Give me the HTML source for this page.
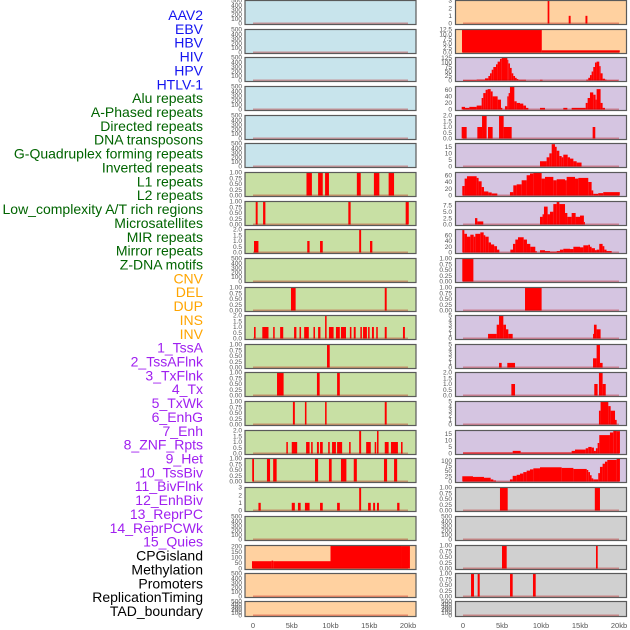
<!DOCTYPE html>
<html><head><meta charset="utf-8">
<style>
html,body{margin:0;padding:0;background:#fff;}
svg{display:block;font-family:"Liberation Sans",sans-serif;}
</style></head>
<body>
<svg id="chart" width="630" height="630" viewBox="0 0 630 630" xmlns="http://www.w3.org/2000/svg"></svg>
<script>
const featureLabels = ["AAV2","EBV","HBV","HIV","HPV","HTLV-1","Alu repeats","A-Phased repeats","Directed repeats","DNA transposons","G-Quadruplex forming repeats","Inverted repeats","L1 repeats","L2 repeats","Low_complexity A/T rich regions","Microsatellites","MIR repeats","Mirror repeats","Z-DNA motifs","CNV","DEL","DUP","INS","INV","1_TssA","2_TssAFlnk","3_TxFlnk","4_Tx","5_TxWk","6_EnhG","7_Enh","8_ZNF_Rpts","9_Het","10_TssBiv","11_BivFlnk","12_EnhBiv","13_ReprPC","14_ReprPCWk","15_Quies","CPGisland","Methylation","Promoters","ReplicationTiming","TAD_boundary"];
const labelGroupCounts = [6,13,5,15,5];
const labelGroupColors = ["#1414f0","#006400","#ffa500","#a020f0","#000000"];

const xTickValues = [0,5,10,15,20];
const xTickLabels = ["0","5kb","10kb","15kb","20kb"];

const T500 = ["0","100","200","300","400","500"];
const T1 = ["0.00","0.25","0.50","0.75","1.00"];
const T2 = ["0.0","0.5","1.0","1.5","2.0"];
const T3 = ["0","1","2","3"];
const T5 = ["0","1","2","3","4","5"];
const T60 = ["0","20","40","60"];
const T15 = ["0","5","10","15"];

const leftBg = ["#c8e4ec","#c8e4ec","#c8e4ec","#c8e4ec","#c8e4ec","#c8e4ec","#c8e0a4","#c8e0a4","#c8e0a4","#c8e0a4","#c8e0a4","#c8e0a4","#c8e0a4","#c8e0a4","#c8e0a4","#c8e0a4","#c8e0a4","#c8e0a4","#c8e0a4","#ffd1a0","#ffd1a0","#ffd1a0"];
const rightBg = ["#ffd1a0","#ffd1a0","#d5c5e1","#d5c5e1","#d5c5e1","#d5c5e1","#d5c5e1","#d5c5e1","#d5c5e1","#d5c5e1","#d5c5e1","#d5c5e1","#d5c5e1","#d5c5e1","#d5c5e1","#d5c5e1","#d5c5e1","#d0d0d0","#d0d0d0","#d0d0d0","#d0d0d0","#d0d0d0"];

const leftTicks = [T500,T500,T500,T500,T500,T500,T1,T1,T2,T500,T1,T2,T1,T1,T1,T2,T1,T3,T500,["0","50","100","150","200"],T500,T500];
const leftYmax = [500,500,500,500,500,500,1,1,2,500,1,2,1,1,1,2,1,3,500,205,500,500];
const leftSegs = [
 [],[],[],[],[],[],
 [[6.9,7.6,1],[8.4,9.0,1],[9.3,9.8,1],[13.4,13.9,1],[15.6,16.3,1],[17.5,18.2,1]],
 [[0.35,0.6,1],[1.3,1.6,1],[12.3,12.6,1],[19.7,20.1,1]],
 [[0.13,0.7,1],[7.0,7.3,1],[8.65,9.0,1],[13.7,13.95,2],[15.1,15.4,1]],
 [],
 [[4.9,5.5,1],[17.0,17.25,1]],
 [[0.13,0.34,1],[1.2,2.0,1],[2.6,2.8,1],[3.5,3.9,1],[5.3,5.6,1],[6.0,6.2,1],[6.6,7.2,1],[7.8,8.0,1],[8.4,8.7,1],[9.3,9.5,2],[9.8,10.4,1],[10.7,11.2,1],[11.35,12.0,1],[12.5,12.7,1],[13.0,13.25,1],[13.85,14.05,1],[14.2,14.7,1],[14.85,15.05,1],[15.35,15.6,1],[15.9,16.1,1],[17.0,17.25,1],[19.35,19.6,1]],
 [[9.55,9.9,1]],
 [[3.1,3.95,1],[8.25,8.6,1],[10.85,11.2,1]],
 [[5.15,5.4,1],[6.7,6.9,1],[9.3,9.5,1],[17.0,17.25,1]],
 [[4.3,4.5,1],[5.0,5.7,1],[6.85,7.3,1],[7.5,7.7,1],[8.25,8.5,1],[8.65,9.0,1],[9.7,9.9,1],[10.2,10.7,1],[10.85,11.5,1],[12.4,12.6,1],[13.7,13.95,2],[14.6,15.2,1],[15.7,15.9,1],[16.0,16.2,2],[17.0,17.5,1],[17.8,18.7,1],[19.1,19.3,1]],
 [[-0.1,0.13,1],[1.8,2.2,1],[2.6,3.05,1],[8.0,8.4,1],[9.8,10.15,1],[11.35,12.05,1],[13.0,13.4,1],[16.9,17.3,1],[18.2,18.6,1]],
 [[0.7,1.0,1],[5.0,5.4,1],[5.8,6.15,1],[6.7,7.3,1],[8.65,9.0,1],[10.85,11.2,1],[13.7,13.95,3],[14.85,15.2,1],[15.5,15.75,1],[16.0,16.25,1],[18.6,18.9,1]],
 [],
 [[-0.13,2.4,65],[2.4,2.6,70],[2.6,10.0,65],[10.0,19.1,205],[19.1,20.25,200]],
 [],[]
];

const rightTicks = [T3,["0.0","2.5","5.0","7.5","10.0","12.5"],["0","25","50","75","100","125"],T60,T2,T15,T60,["0.0","2.5","5.0","7.5"],T60,T1,T1,T5,T5,T2,T5,T15,["0","25","50","75","100"],T1,T500,T1,T1,T500];
const rightYmax = [3,12.5,128,70,2,17.5,68,9,80,1,1,5,5,2,5,17.5,110,1,500,1,1,500];
const rightSegs = [
 [[10.85,11.07,3],[13.55,13.8,1],[15.7,15.95,1]],
 [[-0.13,10.1,12.5],[10.1,20.1,1.2]],
 [[0,1.75,3],[1.75,2.82,5],[2.82,3.25,12],[3.25,3.46,25],[3.46,3.68,40],[3.68,3.89,60],[3.89,4.23,75],[4.23,4.44,90],[4.44,4.74,105],[4.74,4.96,120],[4.96,5.68,128],[5.68,5.81,115],[5.81,6.02,95],[6.02,6.24,70],[6.24,6.45,40],[6.45,6.67,25],[6.67,6.88,15],[6.88,7.09,8],[7.09,8.08,4],[9.87,10.2,4],[15.8,16.06,5],[16.06,16.28,15],[16.28,16.49,30],[16.49,16.7,50],[16.7,16.92,75],[16.92,17.13,100],[17.13,17.47,105],[17.47,17.64,80],[17.64,17.9,40],[17.9,18.2,10],[18.2,18.4,5],[18.4,19.9,2]],
 [[-0.17,0.26,8],[0.26,0.81,5],[0.81,1.75,8],[1.75,2.39,12],[2.39,2.6,35],[2.6,2.9,50],[2.9,3.16,60],[3.16,3.55,62],[3.55,3.8,55],[3.8,4.44,40],[4.44,4.87,30],[4.87,5.04,5],[5.38,5.68,10],[5.68,5.85,40],[5.85,6.02,50],[6.02,6.58,70],[6.58,6.88,25],[6.88,7.31,20],[7.31,7.73,18],[7.73,8.08,12],[8.08,8.38,5],[9.87,10.51,5],[12.86,13.38,5],[13.93,15.73,5],[15.73,15.98,20],[15.98,16.28,35],[16.28,16.7,52],[16.7,17.0,45],[17.0,17.13,30],[17.13,17.64,62],[17.64,17.9,20],[17.9,18.2,5]],
 [[-0.17,0.47,1],[1.84,2.44,1],[2.44,3.03,2],[3.2,3.8,1],[4.62,5.21,2],[5.21,6.24,1],[16.62,16.96,1]],
 [[9.87,10.72,4],[10.72,11.07,7],[11.07,11.37,10],[11.37,11.79,17],[11.79,12.01,15],[12.01,12.35,12],[12.35,12.65,8],[12.65,12.86,7],[12.86,13.42,9],[13.42,13.72,7],[13.72,14.15,6],[14.15,14.57,4],[14.57,15.2,3]],
 [[-0.09,0.21,28],[0.21,0.51,50],[0.51,1.75,57],[1.75,2.0,52],[2.0,2.39,42],[2.39,2.69,25],[2.69,3.25,12],[3.25,3.68,9],[3.68,4.4,6],[6.02,6.45,10],[6.45,6.88,30],[6.88,7.52,33],[7.52,8.16,45],[8.16,8.59,60],[8.59,9.02,65],[9.02,10.08,68],[10.08,10.51,50],[10.51,11.58,55],[11.58,12.01,45],[12.01,13.08,48],[13.08,13.29,45],[13.29,14.36,55],[14.36,14.79,50],[14.79,16.06,52],[16.06,16.49,40],[16.49,16.7,15],[16.7,17.34,5],[17.34,17.98,7],[17.98,20.1,10]],
 [[1.54,1.84,2.5],[1.84,2.6,1.2],[9.87,10.2,3],[10.2,10.38,4],[10.38,10.85,7],[10.85,11.15,4],[11.15,11.58,5],[11.58,12.01,8],[12.01,12.35,9],[12.35,13.08,8],[13.08,13.38,4.5],[13.38,13.93,3],[13.93,14.44,4.5],[14.44,15.0,3],[15.0,15.5,3.5],[15.5,15.63,1]],
 [[-0.09,0.17,78],[0.17,0.51,65],[0.51,0.94,55],[0.94,1.37,62],[1.37,1.58,55],[1.58,2.22,65],[2.22,2.65,70],[2.65,2.86,60],[2.86,3.29,55],[3.29,3.59,35],[3.59,4.0,28],[4.0,4.36,22],[4.36,4.66,10],[6.07,6.41,10],[6.41,6.71,30],[6.71,7.05,45],[7.05,7.78,53],[7.78,8.2,45],[8.2,8.63,30],[8.63,9.27,20],[9.27,9.45,5],[9.87,10.51,8],[10.51,11.15,5],[11.15,12.01,3],[12.01,12.43,5],[12.43,12.86,10],[12.86,13.72,13],[13.72,14.15,12],[14.15,15.0,20],[15.0,15.43,18],[15.43,16.06,25],[16.06,16.28,27],[16.28,16.49,20],[16.49,16.92,15],[16.92,17.13,8],[17.13,17.47,10],[17.47,17.9,30],[17.9,18.12,22],[18.12,18.4,10],[18.4,19.06,5]],
 [[-0.09,1.33,1]],
 [[7.95,10.08,1]],
 [[3.21,4.32,1],[4.32,4.62,3],[4.62,5.17,5],[5.17,5.51,3],[5.51,5.81,2],[5.81,6.37,1],[16.67,16.79,1],[16.79,17.13,3],[17.13,17.64,2]],
 [[4.62,4.96,1],[5.68,6.67,1],[16.67,17.13,2],[17.13,17.56,5],[17.56,17.9,1]],
 [[6.2,6.67,1],[16.83,17.26,1],[17.43,17.9,2],[17.9,18.3,1]],
 [[17.43,17.64,3],[17.64,18.63,5],[18.63,18.93,4],[18.93,19.49,3],[19.49,19.7,1]],
 [[0,6.37,0.8],[6.37,7.39,2],[7.39,13.93,0.8],[13.93,14.36,2],[14.36,15.73,3],[15.73,16.06,4],[16.06,16.49,5],[16.49,16.79,4.5],[16.79,17.04,2],[17.04,17.26,4],[17.26,17.47,8],[17.47,18.84,14],[18.84,19.27,16],[19.27,19.7,17.5],[19.7,20.12,17]],
 [[-0.09,1.28,25],[1.28,2.69,22],[2.69,3.55,18],[3.55,3.89,10],[3.89,4.23,5],[4.23,6.02,0.5],[6.02,6.37,10],[6.37,6.88,27],[6.88,7.31,32],[7.31,7.73,38],[7.73,8.16,45],[8.16,8.59,52],[8.59,9.02,58],[9.02,9.87,63],[9.87,12.65,68],[12.65,14.15,65],[14.15,15.86,60],[15.86,16.06,55],[16.06,16.28,45],[16.28,16.49,30],[16.49,16.7,15],[16.7,17.34,10],[17.34,17.56,40],[17.56,17.9,70],[17.9,18.2,85],[18.2,18.5,95],[18.5,19.7,103],[19.7,20.12,110]],
 [[4.74,5.73,1],[16.9,17.56,1]],
 [],
 [[5.0,5.6,1],[17.05,17.27,1]],
 [[1.03,1.41,1],[1.88,2.14,1],[6.03,6.37,1],[8.97,9.32,1]],
 []
];

const NS = "http://www.w3.org/2000/svg";
const svg = document.getElementById("chart");
function mk(tag, attrs, parent){const e=document.createElementNS(NS,tag);for(const k in attrs)e.setAttribute(k,attrs[k]);(parent||svg).appendChild(e);return e;}

let gi=0, gc=0;
featureLabels.forEach((lab,i)=>{
  while(gc>=labelGroupCounts[gi]){gi++;gc=0;}
  gc++;
  const t=mk("text",{x:203,y:(15+i*13.86+5).toFixed(1),"text-anchor":"end","font-size":"14",fill:labelGroupColors[gi]});
  t.textContent=lab;
  
  
});

const rowTops=[0,29,57,86,115,143,172,201,229,258,287,315,344,372,401,430,458,487,516,545,573,601];
const cols=[
 {name:"left",x0:245,x1:416,zero:253,scale:7.75,bg:leftBg,ticks:leftTicks,ymax:leftYmax,segs:leftSegs,tickX:242},
 {name:"right",x0:455.5,x1:626.5,zero:463,scale:7.8,bg:rightBg,ticks:rightTicks,ymax:rightYmax,segs:rightSegs,tickX:452}
];
cols.forEach(c=>{
  const xs=kb=>c.zero+kb*c.scale;
  rowTops.forEach((top,r)=>{
    const h = r===21?16:25;
    const g=mk("g",{});
    
    
    const bg=mk("rect",{x:c.x0,y:top,width:c.x1-c.x0,height:h,fill:c.bg[r]},g);
    
    
    const y0=top+h-1.5, yTop=top+0.5;
    const ys=v=>y0-(v/c.ymax[r])*(y0-yTop);
    const cp="clip-"+c.name+r;
    const clip=mk("clipPath",{id:cp},g);mk("rect",{x:c.x0,y:top,width:c.x1-c.x0,height:h},clip);
    const bars=mk("g",{"clip-path":"url(#"+cp+")"},g);
    c.segs[r].forEach(s=>{
      const xa=xs(s[0]), xb=xs(s[1]), yv=ys(s[2]);
      const b=mk("rect",{x:xa.toFixed(2),y:yv.toFixed(2),width:Math.max(0.8,xb-xa).toFixed(2),height:Math.max(0,y0-yv).toFixed(2),fill:"#ff0000"},bars);
      
      
    });
    const bl=mk("line",{x1:xs(0),x2:xs(20),y1:y0,y2:y0,stroke:"rgba(190,0,0,0.35)","stroke-width":2},g);
    
    
    const bd=mk("rect",{x:c.x0,y:top+0.5,width:c.x1-c.x0,height:h-1,fill:"none",stroke:"#5a5a5a","stroke-width":1.2},g);
    
    
    const tk=c.ticks[r];
    tk.forEach(lbl=>{
      const v=parseFloat(lbl);
      const t=mk("text",{x:c.tickX,y:(ys(v)+2.2).toFixed(1),"text-anchor":"end","font-size":"6.5",fill:"#555"},g);
      t.textContent=lbl;
      
      
    });
  });
  xTickValues.forEach((v,i)=>{
    const t=mk("text",{x:xs(v),y:628,"text-anchor":"middle","font-size":"7.5",fill:"#555"});
    t.textContent=xTickLabels[i];
    
    
  });
});
</script>
</body></html>
